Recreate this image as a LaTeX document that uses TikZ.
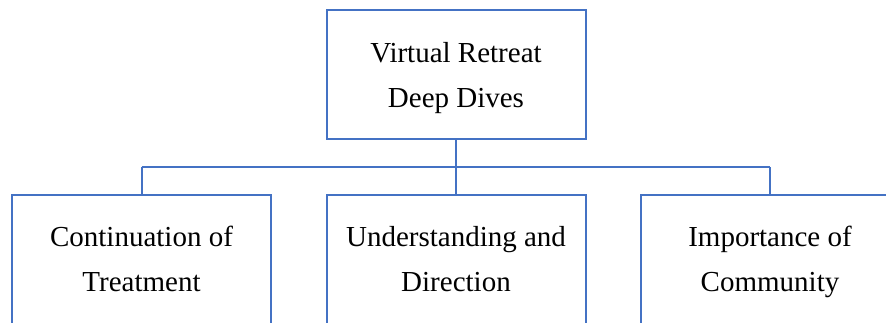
\documentclass[tikz,border=0pt]{standalone}
\usepackage{fontspec}
\setmainfont{Liberation Serif}
\usetikzlibrary{positioning}
\usetikzlibrary{calc}
\definecolor{boxblue}{HTML}{4472C4}

\begin{document}
\begin{tikzpicture}
  [x=1pt,y=-1pt,
  box/.style={draw=boxblue,line width=2pt,minimum width=259pt,minimum height=129pt,inner sep=0pt},
  leaf/.style={draw=boxblue,line width=2pt,minimum width=259pt,minimum height=170pt,inner sep=0pt,anchor=north},
  boxtext/.style={align=center,inner sep=0pt,text depth=0pt,font=\fontsize{29}{45}\selectfont},
  link/.style={boxblue,line width=2pt}]
  \useasboundingbox (0,0) rectangle (886,322);

  \node[box] (root) at (456,74.5) {};
  \node[boxtext] (roottext) at (root.center) {Virtual Retreat\\Deep Dives};

  \node[leaf] (cont) at (141.5,194) {};
  \node[leaf] (und) at (456,194) {};
  \node[leaf] (comm) at (770,194) {};

  \node[boxtext] (conttext) at ([yshift=-64.5pt]cont.north) {Continuation of\\Treatment};
  \node[boxtext] (undtext) at ([yshift=-64.5pt]und.north) {Understanding and\\Direction};
  \node[boxtext] (commtext) at ([yshift=-64.5pt]comm.north) {Importance of\\Community};

  \coordinate (bar) at (456,167);

  \draw [link] (root.south) -- (bar);
  \draw [link] (cont.north |- bar) -- (comm.north |- bar);
  \draw [link] (cont.north |- bar) -- (cont.north);
  \draw [link] (bar) -- (und.north);
  \draw [link] (comm.north |- bar) -- (comm.north);

\end{tikzpicture}
\end{document}
